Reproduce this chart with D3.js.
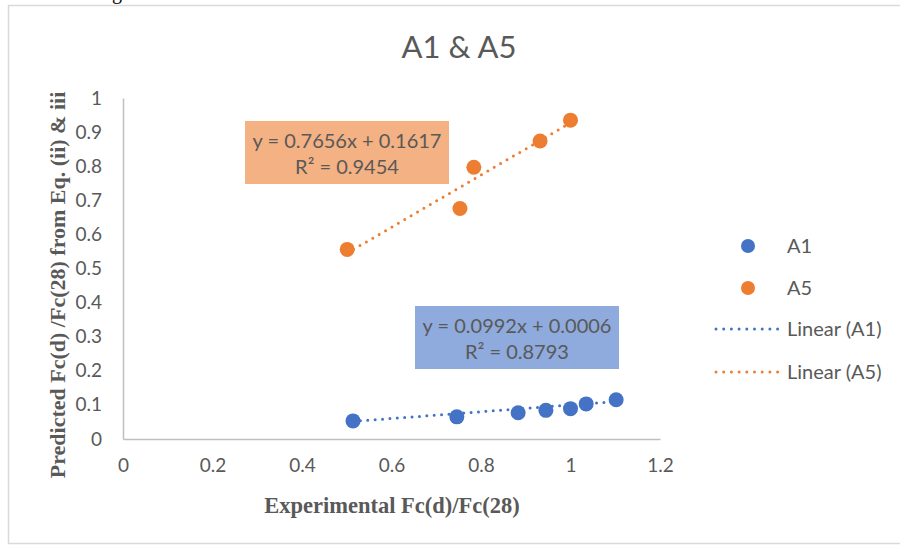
<!DOCTYPE html>
<html lang="en">
  <head>
    <meta charset="utf-8" />
    <title>A1 &amp; A5</title>
    <style>
      body {
        margin: 0;
        background: #fff;
      }
      svg {
        display: block;
      }
      .tick-label {
        font-family: Lato, "Open Sans", sans-serif;
        font-size: 19px;
        fill: #595959;
      }
      .axis-title {
        font-family: "Liberation Serif", "Times New Roman", serif;
        font-weight: bold;
        font-size: 22.5px;
        fill: #595959;
      }
    </style>
    <script src="https://d3js.org/d3.v7.min.js"></script>
  </head>

  <body>
    <svg width="900" height="546"></svg>

    <script>
      // values
      var a1X = [0.514, 0.746, 0.883, 0.945, 1.0, 1.035, 1.102];
      var a1Y = [0.053, 0.065, 0.077, 0.084, 0.089, 0.103, 0.115];
      var a5X = [0.501, 0.753, 0.784, 0.932, 1.0];
      var a5Y = [0.556, 0.676, 0.797, 0.874, 0.935];

      // trendline fits as printed on the chart
      var a1Fit = { slope: 0.0992, intercept: 0.0006, label: ["y = 0.0992x + 0.0006", "R\u00B2 = 0.8793"] };
      var a5Fit = { slope: 0.7656, intercept: 0.1617, label: ["y = 0.7656x + 0.1617", "R\u00B2 = 0.9454"] };

      var xTicks = [0, 0.2, 0.4, 0.6, 0.8, 1, 1.2];
      var yTicks = [0, 0.1, 0.2, 0.3, 0.4, 0.5, 0.6, 0.7, 0.8, 0.9, 1];
      var legendNames = ["A1", "A5", "Linear (A1)", "Linear (A5)"];

      var blue = "#4472C4",
        orange = "#ED7D31";

      var svg = d3.select("svg");

      // outer chart frame (runs off the right edge)
      svg
        .append("rect")
        .attr("x", 8.5)
        .attr("y", 5.5)
        .attr("width", 900)
        .attr("height", 538)
        .attr("fill", "#fff")
        .attr("stroke", "#D9D9D9")
        .attr("stroke-width", 1.5);

      // bit of document text cut off above the chart
      svg
        .append("text")
        .attr("x", 112)
        .attr("y", -1)
        .attr("font-family", "Liberation Serif, serif")
        .attr("font-size", 20)
        .attr("fill", "#000")
        .text("g");

      var x = d3.scaleLinear().domain([0, 1.2]).range([123, 660]);
      var y = d3.scaleLinear().domain([0, 1]).range([439, 98]);

      // title
      svg
        .append("text")
        .attr("x", 459)
        .attr("y", 58)
        .attr("text-anchor", "middle")
        .attr("font-family", "Lato, sans-serif")
        .attr("font-size", 31)
        .attr("fill", "#595959")
        .text("A1 & A5");

      // axes
      var xAxis = svg
        .append("g")
        .attr("transform", "translate(0," + y(0) + ")")
        .call(d3.axisBottom(x).tickValues(xTicks).tickSize(0).tickPadding(20).tickFormat(d3.format("")));
      xAxis.select(".domain").attr("stroke", "#BFBFBF").attr("stroke-width", 1.5);
      xAxis.selectAll("text").attr("class", "tick-label").attr("font-family", null).attr("font-size", null);

      var yAxis = svg
        .append("g")
        .attr("transform", "translate(" + x(0) + ",0)")
        .call(d3.axisLeft(y).tickValues(yTicks).tickSize(0).tickPadding(21).tickFormat(d3.format("")));
      yAxis.select(".domain").attr("stroke", "#BFBFBF").attr("stroke-width", 1.5);
      yAxis.selectAll("text").attr("class", "tick-label").attr("font-family", null).attr("font-size", null);

      // axis titles
      svg
        .append("text")
        .attr("class", "axis-title")
        .attr("x", 392)
        .attr("y", 513)
        .attr("text-anchor", "middle")
        .text("Experimental Fc(d)/Fc(28)");

      svg
        .append("text")
        .attr("class", "axis-title")
        .attr("transform", "translate(65,285) rotate(-90)")
        .attr("text-anchor", "middle")
        .style("font-size", "22px")
        .text("Predicted Fc(d) /Fc(28) from Eq. (ii) & iii");

      // dotted trendlines over the data range
      function trend(xs, fit, color) {
        var x0 = d3.min(xs),
          x1 = d3.max(xs);
        svg
          .append("line")
          .attr("x1", x(x0))
          .attr("y1", y(fit.slope * x0 + fit.intercept))
          .attr("x2", x(x1))
          .attr("y2", y(fit.slope * x1 + fit.intercept))
          .attr("stroke", color)
          .attr("stroke-width", 3)
          .attr("stroke-linecap", "round")
          .attr("stroke-dasharray", "0 7.4");
      }
      trend(a1X, a1Fit, blue);
      trend(a5X, a5Fit, orange);

      // points
      function points(xs, ys, color) {
        svg
          .append("g")
          .selectAll("circle")
          .data(xs.map((d, i) => [d, ys[i]]))
          .enter()
          .append("circle")
          .attr("cx", (d) => x(d[0]))
          .attr("cy", (d) => y(d[1]))
          .attr("r", 7.5)
          .attr("fill", color);
      }
      points(a1X, a1Y, blue);
      points(a5X, a5Y, orange);

      // equation labels
      function eqBox(fit, bx, by, fill) {
        var g = svg.append("g").attr("transform", "translate(" + bx + "," + by + ")");
        g.append("rect").attr("width", 204).attr("height", 63).attr("fill", fill);
        g.selectAll("text")
          .data(fit.label)
          .enter()
          .append("text")
          .attr("x", 102)
          .attr("y", (d, i) => 27 + i * 26)
          .attr("text-anchor", "middle")
          .attr("font-family", "Lato, sans-serif")
          .attr("font-size", 20)
          .attr("fill", "#595959")
          .text((d) => d);
      }
      eqBox(a5Fit, 245, 121, "#F4B183");
      eqBox(a1Fit, 415, 306, "#8FAADC");

      // legend
      var legendColors = [blue, orange, blue, orange];
      var legendY = [246, 288, 329, 372];
      legendNames.forEach((name, i) => {
        var row = svg.append("g").attr("transform", "translate(0," + legendY[i] + ")");
        if (i < 2) {
          row.append("circle").attr("cx", 748).attr("cy", 0).attr("r", 7).attr("fill", legendColors[i]);
        } else {
          row
            .append("line")
            .attr("x1", 716)
            .attr("x2", 778)
            .attr("y1", 0)
            .attr("y2", 0)
            .attr("stroke", legendColors[i])
            .attr("stroke-width", 3)
            .attr("stroke-linecap", "round")
            .attr("stroke-dasharray", "0 7.7");
        }
        row
          .append("text")
          .attr("x", 787)
          .attr("y", 7)
          .attr("font-family", "Lato, sans-serif")
          .attr("font-size", 20)
          .attr("fill", "#595959")
          .text(name);
      });
    </script>
  </body>
</html>
